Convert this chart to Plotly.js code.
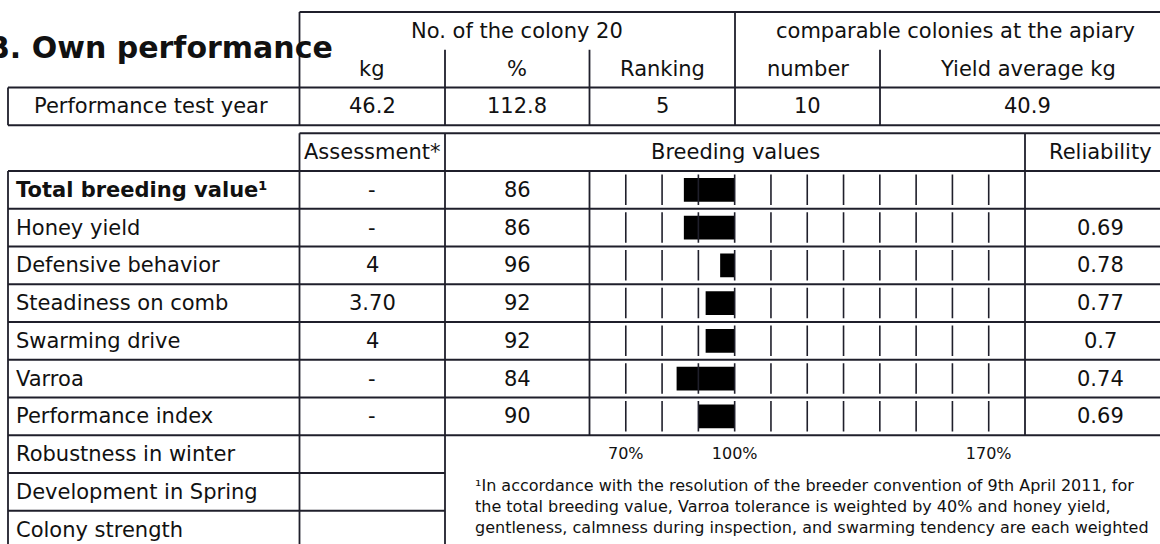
<!DOCTYPE html>
<html><head><meta charset="utf-8">
<script src="https://cdn.plot.ly/plotly-3.0.1.min.js"></script>
<style>html,body{margin:0;padding:0;background:#fff}</style>
</head><body><div id="chart" style="width:1160px;height:544px"></div>
<script>
// ---------- data ----------
const titleText = 'B. Own performance';
const topGroups = ['No. of the colony 20', 'comparable colonies at the apiary'];
const topSubHeaders = ['kg', '%', 'Ranking', 'number', 'Yield average kg'];
const topRowLabel = 'Performance test year';
const topRowValues = ['46.2', '112.8', '5', '10', '40.9'];
const lowerHeaders = ['Assessment*', 'Breeding values', 'Reliability'];
const traits = ['Total breeding value¹', 'Honey yield', 'Defensive behavior', 'Steadiness on comb',
  'Swarming drive', 'Varroa', 'Performance index', 'Robustness in winter',
  'Development in Spring', 'Colony strength'];
const assessments = ['-', '-', '4', '3.70', '4', '-', '-', '', '', ''];
const breedingValues = [86, 86, 96, 92, 92, 84, 90];
const reliability = ['', '0.69', '0.78', '0.77', '0.7', '0.74', '0.69'];
const gridValues = [70, 80, 90, 100, 110, 120, 130, 140, 150, 160, 170];
const axisTickValues = [70, 100, 170];
const axisTickLabels = ['70%', '100%', '170%'];
const baseValue = 100;
const footnoteLines = [
  '¹In accordance with the resolution of the breeder convention of 9th April 2011, for',
  'the total breeding value, Varroa tolerance is weighted by 40% and honey yield,',
  'gentleness, calmness during inspection, and swarming tendency are each weighted'
];

// ---------- layout geometry (pixels) ----------
const W = 1160, H = 544;
const C = {left: 8, c1: 299.5, c2: 445, c3: 589.5, c4: 735, c5: 880, c6: 1025, right: 1175};
const topY = [12, 49.75, 87.5, 125.25];
const lowHeadTop = 133.25, row0 = 171, rowH = 37.75;
const nBarRows = breedingValues.length;
const barBottom = row0 + nBarRows * rowH;
const px = x => x / W;
const py = y => 1 - y / H;
const FONT = 'DejaVu Sans, Verdana, sans-serif';
const LINE = '#1f1f2b';
const TXT = '#111111';

const shapes = [];
function hline(y, x0, x1) {
  shapes.push({type: 'line', xref: 'paper', yref: 'paper', x0: px(x0), x1: px(x1), y0: py(y), y1: py(y),
    line: {color: LINE, width: 1.8}, layer: 'above'});
}
function vline(x, y0, y1) {
  shapes.push({type: 'line', xref: 'paper', yref: 'paper', x0: px(x), x1: px(x), y0: py(y0), y1: py(y1),
    line: {color: LINE, width: 1.8}, layer: 'above'});
}
const annotations = [];
function txt(text, x, y, opts) {
  opts = opts || {};
  annotations.push(Object.assign({
    text: text, x: px(x), y: py(y), xref: 'paper', yref: 'paper', showarrow: false,
    xanchor: 'center', yanchor: 'middle',
    font: {family: FONT, size: opts.size || 21, color: TXT, weight: opts.weight || 'normal'}
  }, opts.extra || {}));
}

// top table lines
hline(topY[0], C.c1, C.right);
hline(topY[2], C.left, C.right);
hline(topY[3], C.left, C.right);
vline(C.left, topY[2], topY[3]);
vline(C.c1, topY[0], topY[3]);
vline(C.c4, topY[0], topY[3]);
[C.c2, C.c3, C.c5].forEach(x => vline(x, topY[1], topY[3]));

// lower table lines
hline(lowHeadTop, C.c1, C.right);
for (let k = 0; k <= nBarRows; k++) hline(row0 + k * rowH, C.left, C.right);
for (let k = nBarRows + 1; k < traits.length; k++) hline(row0 + k * rowH, C.left, C.c2);
vline(C.left, row0, H + 5);
vline(C.c1, lowHeadTop, H + 5);
vline(C.c2, lowHeadTop, H + 5);
vline(C.c3, row0, barBottom);
vline(C.c6, lowHeadTop, barBottom);

// title
txt(titleText, 335, 47, {size: 30, weight: 'bold', extra: {xanchor: 'right'}});

// top table texts
const mid = (a, b) => (a + b) / 2;
const rowMidTop = [mid(topY[0], topY[1]), mid(topY[1], topY[2]), mid(topY[2], topY[3])];
txt(topGroups[0], mid(C.c1, C.c4), rowMidTop[0]);
txt(topGroups[1], mid(C.c4, C.right), rowMidTop[0]);
const subCols = [[C.c1, C.c2], [C.c2, C.c3], [C.c3, C.c4], [C.c4, C.c5], [C.c5, C.right]];
topSubHeaders.forEach((t, i) => txt(t, mid(subCols[i][0], subCols[i][1]), rowMidTop[1]));
topRowValues.forEach((t, i) => txt(t, mid(subCols[i][0], subCols[i][1]), rowMidTop[2]));
txt(topRowLabel, mid(C.left, C.c1) - 3, rowMidTop[2]);

// lower header
const headMid = mid(lowHeadTop, row0);
txt(lowerHeaders[0], mid(C.c1, C.c2), headMid);
txt(lowerHeaders[1], mid(C.c2, C.c6), headMid);
txt(lowerHeaders[2], mid(C.c6, C.right), headMid);

// rows
traits.forEach((t, i) => {
  const yc = row0 + (i + 0.5) * rowH;
  txt(i === 0 ? '<b>' + t + '</b>' : t, 14, yc, {extra: {xanchor: 'left'}});
  if (assessments[i]) txt(assessments[i], mid(C.c1, C.c2), yc);
});
breedingValues.forEach((v, i) => {
  const yc = row0 + (i + 0.5) * rowH;
  txt(String(v), mid(C.c2, C.c3), yc);
  if (reliability[i]) txt(reliability[i], mid(C.c6, C.right), yc);
});

// footnote
footnoteLines.forEach((t, i) => txt(t, 473, 485 + i * 21.4, {size: 16, extra: {xanchor: 'left'}}));

// ---------- traces ----------
const rowIdx = breedingValues.map((_, i) => i);
const gx = [], gy = [];
rowIdx.forEach(i => gridValues.forEach(g => { gx.push(g, g, null); gy.push(i - 0.41, i + 0.40, null); }));

const traces = [
  {type: 'scatter', mode: 'lines', x: gx, y: gy, line: {color: LINE, width: 1.6},
   hoverinfo: 'skip', showlegend: false, cliponaxis: false},
  {type: 'bar', orientation: 'h', y: rowIdx, x: breedingValues.map(v => v - baseValue), base: baseValue,
   width: 0.63, marker: {color: '#000000', line: {width: 0}}, showlegend: false,
   hovertemplate: '%{base}<extra></extra>'}
];

const layout = {
  width: W, height: H, margin: {l: 0, r: 0, t: 0, b: 0}, paper_bgcolor: '#ffffff', plot_bgcolor: 'rgba(0,0,0,0)',
  showlegend: false, barmode: 'overlay',
  xaxis: {domain: [px(C.c3), px(C.c6)], range: [60, 180], showgrid: false, zeroline: false, showline: false,
    tickmode: 'array', tickvals: axisTickValues, ticktext: axisTickLabels, ticks: '', ticklabelstandoff: 7,
    tickfont: {family: FONT, size: 16, color: TXT}, fixedrange: true},
  yaxis: {domain: [py(barBottom), py(row0)], range: [nBarRows - 0.5, -0.5], visible: false, fixedrange: true},
  shapes: shapes, annotations: annotations
};
Plotly.newPlot('chart', traces, layout, {displayModeBar: false, staticPlot: true});
</script></body></html>
